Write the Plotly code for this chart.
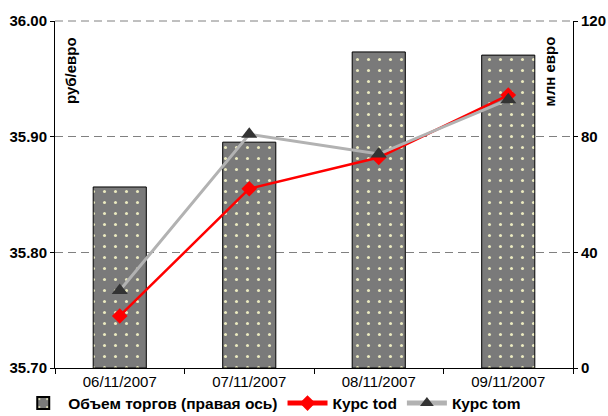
import plotly.graph_objects as go

dates = ["06/11/2007", "07/11/2007", "08/11/2007", "09/11/2007"]
volume = [62.6, 78.1, 109.3, 108.2]          # млн евро, правая ось
rate_tod = [35.745, 35.855, 35.882, 35.936]  # руб/евро
rate_tom = [35.767, 35.902, 35.885, 35.932]  # руб/евро

left_ticks = [35.70, 35.80, 35.90, 36.00]
right_ticks = [0, 40, 80, 120]

FONT = "Liberation Sans, Arial, sans-serif"

fig = go.Figure()

fig.add_trace(go.Bar(
    x=dates, y=volume, name="Объем торгов (правая ось)",
    width=0.41, yaxis="y",
    marker=dict(
        color="#7a7a7a",
        line=dict(color="#000000", width=1),
        pattern=dict(shape=".", fgcolor="#ecebc0", bgcolor="#7a7a7a",
                     size=11, solidity=0.06, fillmode="replace"),
    ),
))

fig.add_trace(go.Scatter(
    x=dates, y=rate_tod, name="Курс tod", yaxis="y2",
    mode="lines+markers",
    line=dict(color="#ff0000", width=2.5),
    marker=dict(symbol="diamond", size=12, color="#ff0000"),
))

fig.add_trace(go.Scatter(
    x=dates, y=rate_tom, name="Курс tom", yaxis="y2",
    mode="lines+markers",
    line=dict(color="#b2b2b2", width=3),
    marker=dict(symbol="triangle-up", size=14, color="#333333"),
))

fig.update_layout(
    width=608, height=416,
    margin=dict(l=55, r=35, t=21, b=48, autoexpand=False),
    plot_bgcolor="white", paper_bgcolor="white",
    font=dict(family=FONT, size=15, color="#000000"),
    bargap=0.59,
    xaxis=dict(
        type="category", showline=True, linecolor="#000000", linewidth=1,
        ticks="outside", tickson="boundaries", ticklen=5, tickcolor="#000000",
        showgrid=False, tickfont=dict(size=15), ticklabelstandoff=0,
    ),
    yaxis=dict(
        side="right", range=[0, 120], tickvals=right_ticks,
        showline=True, linecolor="#000000", linewidth=1,
        ticks="outside", ticklen=4, tickcolor="#000000",
        showgrid=True, gridcolor="#808080", griddash="8px,5px", gridwidth=1,
        zeroline=False,
        tickfont=dict(size=15, family=FONT, weight="bold"),
    ),
    yaxis2=dict(
        side="left", overlaying="y", range=[35.70, 36.00],
        tickvals=left_ticks, tickformat=".2f",
        showline=True, linecolor="#000000", linewidth=1,
        ticks="outside", ticklen=4, tickcolor="#000000",
        showgrid=False, zeroline=False,
        tickfont=dict(size=15, family=FONT, weight="bold"),
    ),
    legend=dict(
        orientation="h", xref="container", yref="container",
        x=0.03, xanchor="left", y=0.03, yanchor="middle",
        font=dict(size=15.5, family=FONT, weight="bold"),
        itemsizing="constant", tracegroupgap=0, itemwidth=40,
        bgcolor="rgba(0,0,0,0)",
    ),
    showlegend=True,
    shapes=[
        # dashed line along the top edge of the plot area (36.00 / 120)
        dict(type="line", xref="paper", yref="paper", x0=0, x1=1, y0=1, y1=1,
             line=dict(color="#808080", width=1, dash="8px,5px")),
    ],
    annotations=[
        dict(text="<b>руб/евро</b>", xref="paper", yref="paper",
             x=0.01, y=0.96, xanchor="left", yanchor="top",
             textangle=-90, showarrow=False, font=dict(size=15, family=FONT)),
        dict(text="<b>млн евро</b>", xref="paper", yref="paper",
             x=0.975, y=0.96, xanchor="right", yanchor="top",
             textangle=-90, showarrow=False, font=dict(size=15, family=FONT)),
    ],
)

fig.write_html("out.html")
